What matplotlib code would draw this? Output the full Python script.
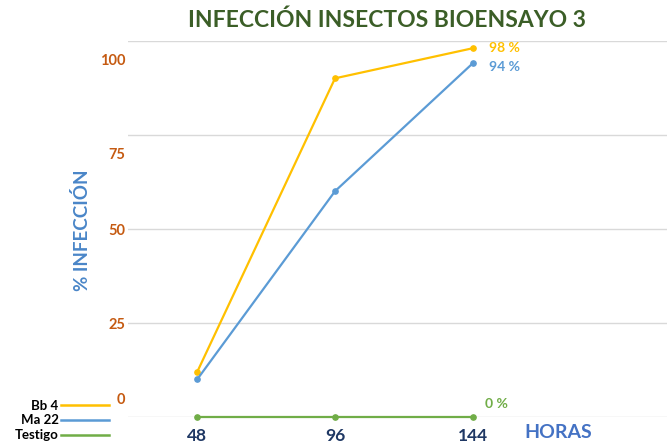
import matplotlib
matplotlib.use("Agg")
import matplotlib.pyplot as plt
from matplotlib.lines import Line2D

hours = ["48", "96", "144"]
series_names = ["Bb 4", "Ma 22", "Testigo"]
bb4 = [12, 90, 98]
ma22 = [10, 60, 94]
testigo = [0, 0, 0]
end_labels = ["98 %", "94 %", "0 %"]
ytick_values = [0, 25, 50, 75, 100]

colors = ["#FFC000", "#5B9BD5", "#70AD47"]
series = [bb4, ma22, testigo]

plt.rcParams["font.family"] = ["Lato", "DejaVu Sans"]

fig = plt.figure(figsize=(6.67, 4.46), dpi=100)
ax = fig.add_axes([128 / 667, 1 - 416.9 / 446, 1 - 128 / 667, (416.9 - 40.7) / 446])

x = list(range(len(hours)))
for vals, c in zip(series, colors):
    ax.plot(x, vals, color=c, lw=1.6, marker="o", markersize=3.8, zorder=3, clip_on=False)

ax.set_xlim(-0.503, 3.41)
ax.set_ylim(0, 100)
ax.set_yticks(ytick_values)
ax.set_yticklabels([])
ax.tick_params(axis="y", length=0)
ax.grid(axis="y", color="#D9D9D9", lw=1.0)
ax.set_axisbelow(True)
for s in ["top", "right", "left", "bottom"]:
    ax.spines[s].set_visible(False)

ax.set_xticks(x)
ax.set_xticklabels(hours, fontsize=12.5, fontweight="bold", color="#1F3864")
ax.tick_params(axis="x", length=0, pad=8)

# y tick labels (placed slightly off the grid lines as in the reference)
label_pos = [4.5, 24.4, 49.4, 69.6, 94.6]
for v, p in zip(ytick_values, label_pos):
    ax.annotate(str(v), xy=(0, p), xycoords=ax.get_yaxis_transform(),
                xytext=(-2, 0), textcoords="offset points", ha="right", va="center",
                fontsize=10.5, fontweight="bold", color="#C55A11")

# end-of-series data labels
offsets = [(12, 0), (12, -3), (9, 9)]
for vals, c, lab, off in zip(series, colors, end_labels, offsets):
    ax.annotate(lab, xy=(x[-1], vals[-1]), xytext=off, textcoords="offset points",
                ha="left", va="center", fontsize=10, fontweight="bold", color=c)

fig.text(387 / 667, 1 - 20 / 446, "INFECCIÓN INSECTOS BIOENSAYO 3", ha="center", va="center",
         fontsize=16.5, fontweight="bold", color="#3B5E27")
fig.text(82 / 667, 1 - 230 / 446, "% INFECCIÓN", rotation=90, ha="center", va="center",
         fontsize=13.5, fontweight="bold", color="#4A86C8")
fig.text(558 / 667, 1 - 433 / 446, "HORAS", ha="center", va="center",
         fontsize=14, fontweight="bold", color="#4472C4")

handles = [Line2D([], [], color=c, lw=1.8) for c in colors]
leg = fig.legend(handles, series_names, loc="lower left", bbox_to_anchor=(10 / 667, 0.0),
                 markerfirst=False, frameon=False, handlelength=3.6, handletextpad=0.2,
                 labelspacing=0.22, borderaxespad=0.15, borderpad=0.2,
                 prop={"size": 9.5, "weight": "bold"})

fig.savefig("out.png", dpi=100)
